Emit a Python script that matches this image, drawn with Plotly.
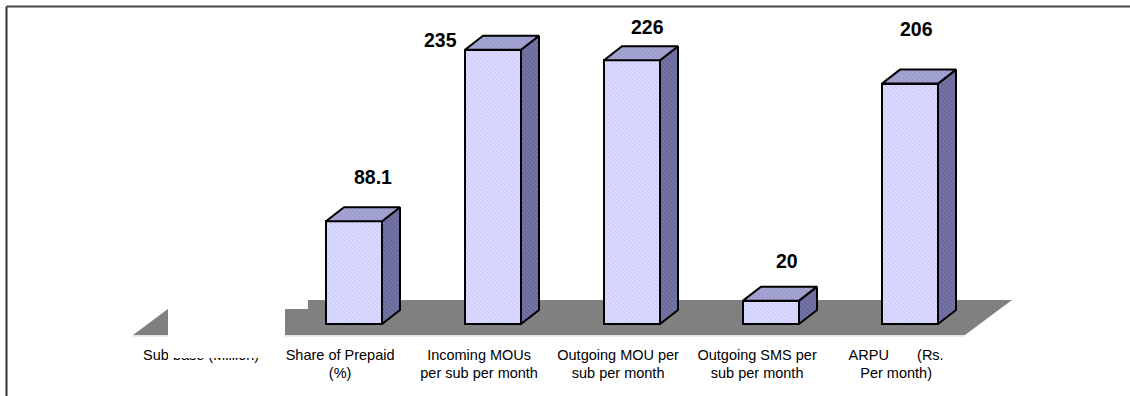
import plotly.graph_objects as go

# ---- data -------------------------------------------------------------
categories = [
    "Sub base (Million)",
    "Share of Prepaid<br>(%)",
    "Incoming MOUs<br>per sub per month",
    "Outgoing MOU per<br>sub per month",
    "Outgoing SMS per<br>sub per month",
    "ARPU\u00a0\u00a0\u00a0\u00a0\u00a0\u00a0\u00a0(Rs.<br>Per month)",
]
values = [None, 88.1, 235, 226, 20, 206]
value_text = ["", "88.1", "235", "226", "20", "206"]

# ---- geometry of the pseudo-3D columns (axis units) -------------------
PX_X = 139.0          # pixels per category step
PX_Y = 1.167          # pixels per value unit
W, H = 1130, 396
BAR_W = 56 / PX_X     # front face width
DX = 18 / PX_X        # depth offset to the right
DY = 14 / PX_Y        # depth offset upwards

x_range = [-215 / PX_X, (W - 215) / PX_X]
y_range = [(324 - H) / PX_Y, 324 / PX_Y]

# label nudges (x in categories, y in value units above column)
label_nudge = [(0, 0), (0.137, 38.2), (-0.381, 8.4), (0.115, 28.5), (0.115, 34.0), (0.05, 46.8)]

FRONT = "#ccccff"
SIDE = "#66669a"
TOP = "#9999cc"

xs = list(range(len(categories)))

fig = go.Figure()

# front faces
fig.add_trace(go.Bar(
    x=xs, y=values, width=BAR_W,
    marker=dict(
        color=FRONT,
        line=dict(color="black", width=2),
        pattern=dict(shape="\\", fgcolor="white", size=3, solidity=0.35, fillmode="overlay"),
    ),
    hoverinfo="skip", showlegend=False,
))

# side and top faces
for i, v in enumerate(values):
    if v is None:
        continue
    xl, xr = i - BAR_W / 2, i + BAR_W / 2
    fig.add_trace(go.Scatter(
        x=[xr, xr + DX, xr + DX, xr, xr],
        y=[0, DY, v + DY, v, 0],
        mode="lines", fill="toself", fillcolor=SIDE,
        fillpattern=dict(shape="\\", fgcolor="#9a9ac0", size=3, solidity=0.35),
        line=dict(color="black", width=2),
        hoverinfo="skip", showlegend=False,
    ))
    fig.add_trace(go.Scatter(
        x=[xl, xl + DX, xr + DX, xr, xl],
        y=[v, v + DY, v + DY, v, v],
        mode="lines", fill="toself", fillcolor=TOP,
        fillpattern=dict(shape="\\", fgcolor="#c4c4e4", size=3, solidity=0.35),
        line=dict(color="black", width=2),
        hoverinfo="skip", showlegend=False,
    ))

# value labels
for i, (v, t) in enumerate(zip(values, value_text)):
    if v is None:
        continue
    nx, ny = label_nudge[i]
    fig.add_annotation(
        x=i + nx, y=v + ny, text=f"<b>{t}</b>", showarrow=False,
        xanchor="center", yanchor="middle",
        font=dict(family="Liberation Sans, Arial, sans-serif", size=19.5, color="black"),
    )

# floor of the chart
fy0, fy1 = (324 - 335) / PX_Y, (324 - 300) / PX_Y
fxl0, fxl1 = (133 - 215) / PX_X, (180 - 215) / PX_X
fxr0, fxr1 = (965 - 215) / PX_X, (1012 - 215) / PX_X
shapes = [
    dict(type="path", xref="x", yref="y", layer="below",
         path=f"M {fxl0},{fy0} L {fxl1},{fy1} L {fxr1},{fy1} L {fxr0},{fy0} Z",
         fillcolor="#808080", line=dict(width=0)),
    dict(type="line", xref="x", yref="y", layer="below",
         x0=fxl0, y0=fy0 - 0.8, x1=fxr0, y1=fy0 - 0.8,
         line=dict(color="#d0d0d0", width=1)),
]

def px_rect(x0, y0, x1, y1):
    return dict(type="rect", xref="paper", yref="paper", layer="above",
                x0=x0 / W, x1=x1 / W, y0=1 - y1 / H, y1=1 - y0 / H,
                fillcolor="white", line=dict(width=0))

# white panels over the first category
shapes.append(px_rect(168, 0, 285, 358))
shapes.append(px_rect(168, 0, 308, 309))

# outer frame
shapes.append(dict(type="line", xref="paper", yref="paper", layer="above",
                   x0=6.5 / W, x1=6.5 / W, y0=0, y1=1 - 6.5 / H,
                   line=dict(color="#333333", width=2)))
shapes.append(dict(type="line", xref="paper", yref="paper", layer="above",
                   x0=6.5 / W, x1=1, y0=1 - 6.5 / H, y1=1 - 6.5 / H,
                   line=dict(color="#444444", width=2)))

fig.update_layout(
    width=W, height=H,
    margin=dict(l=0, r=0, t=0, b=0),
    paper_bgcolor="white", plot_bgcolor="white",
    shapes=shapes,
    bargap=0,
    xaxis=dict(
        range=x_range, domain=[0, 1], anchor="free", position=1 - 344 / H,
        tickvals=[x - 0.1 for x in xs], ticktext=categories,
        tickfont=dict(family="Liberation Sans, Arial, sans-serif", size=14.5, color="black"),
        showgrid=False, zeroline=False, showline=False, ticks="",
        automargin=False, fixedrange=True,
    ),
    yaxis=dict(range=y_range, domain=[0, 1], visible=False, fixedrange=True),
)

fig.write_html("out.html")
